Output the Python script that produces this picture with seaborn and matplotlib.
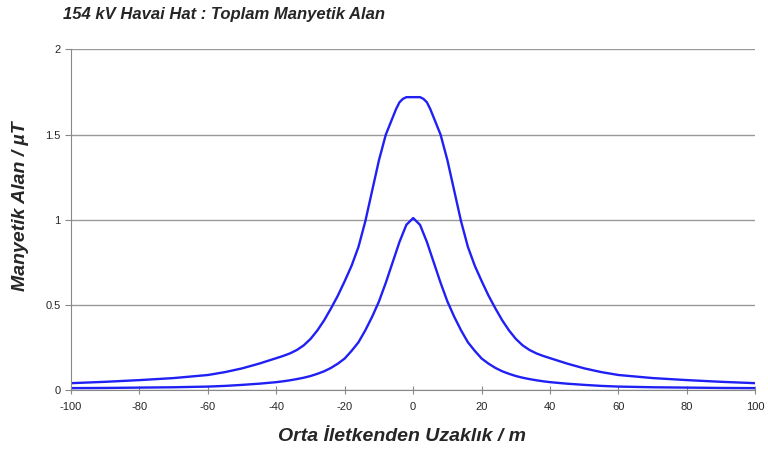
import pandas as pd
import matplotlib
matplotlib.use("Agg")
import matplotlib.pyplot as plt
import seaborn as sns

# Orta iletkenden uzaklık (m) - eğriler simetrik, sağ yarı
x_sag = [0, 2, 3, 4, 5, 6, 8, 10, 12, 14, 16, 18, 20, 22, 24, 26, 28, 30, 32, 34, 36, 38, 40,
         45, 50, 55, 60, 70, 80, 90, 100]
# Üst eğri (µT)
ust_sag = [1.72, 1.72, 1.71, 1.69, 1.65, 1.60, 1.50, 1.35, 1.17, 0.99, 0.84, 0.73, 0.64, 0.555,
           0.48, 0.41, 0.35, 0.30, 0.262, 0.235, 0.215, 0.20, 0.187, 0.155, 0.127, 0.105,
           0.088, 0.07, 0.058, 0.048, 0.04]
# Alt eğri (µT)
alt_sag = [1.01, 0.97, 0.92, 0.87, 0.81, 0.75, 0.63, 0.52, 0.43, 0.35, 0.28, 0.23, 0.185, 0.155,
           0.13, 0.11, 0.095, 0.082, 0.072, 0.064, 0.057, 0.051, 0.046, 0.037, 0.03, 0.024,
           0.02, 0.016, 0.014, 0.012, 0.011]

x = [-v for v in x_sag[:0:-1]] + x_sag
ust = ust_sag[:0:-1] + ust_sag
alt = alt_sag[:0:-1] + alt_sag

df = pd.DataFrame({"x": x, "ust": ust, "alt": alt})

sns.set_style("white")
plt.rcParams["font.family"] = ["Liberation Sans", "DejaVu Sans"]
plt.rcParams["axes.unicode_minus"] = False

fig = plt.figure(figsize=(7.68, 4.54), dpi=100)
ax = fig.add_axes([0.0925, 0.141, 0.891, 0.750])

sns.lineplot(data=df, x="x", y="ust", color="#2020f5", linewidth=1.7, ax=ax)
sns.lineplot(data=df, x="x", y="alt", color="#2020f5", linewidth=1.7, ax=ax)

ax.set_xlim(-100, 100)
ax.set_ylim(0, 2)
ax.set_xticks(range(-100, 101, 20))
ax.set_yticks([0, 0.5, 1, 1.5, 2])
ax.set_yticklabels(["0", "0.5", "1", "1.5", "2"])
ax.yaxis.grid(True, color="#999999", linewidth=1)
ax.set_axisbelow(True)
for s in ["top", "right"]:
    ax.spines[s].set_visible(False)
for s in ["left", "bottom"]:
    ax.spines[s].set_color("#888888")
ax.tick_params(axis="x", direction="inout", length=6, color="#888888", labelsize=8, pad=6, bottom=True)
ax.tick_params(axis="y", direction="out", length=4, color="#888888", labelsize=8, left=True)

ax.set_xlabel("Orta İletkenden Uzaklık / m", fontsize=14, fontweight="bold", style="italic")
ax.set_ylabel("Manyetik Alan / µT", fontsize=14, fontweight="bold", style="italic")
ax.xaxis.set_label_coords(0.484, -0.112)
ax.yaxis.set_label_coords(-0.062, 0.54)
fig.text(0.082, 0.969, "154 kV Havai Hat : Toplam Manyetik Alan", fontsize=12,
         fontweight="bold", style="italic", va="center")

fig.savefig("out.png", dpi=100)
